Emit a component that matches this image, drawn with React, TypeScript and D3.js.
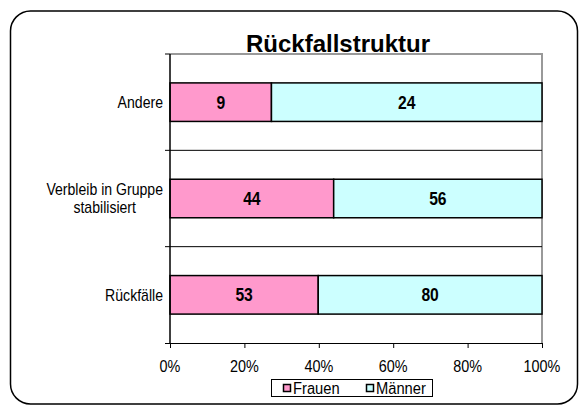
import { useEffect, useRef } from 'react';
import * as d3 from 'd3';

const categories = ['Andere', 'Verbleib in Gruppe\nstabilisiert', 'Rückfälle'];
const frauen = [9, 44, 53];
const maenner = [24, 56, 80];
const seriesNames = ['Frauen', 'Männer'];
const seriesColors = ['#FF99CC', '#CCFFFF'];
const xTicks = [0, 0.2, 0.4, 0.6, 0.8, 1];

const App = () => {
  const svgRef = useRef<SVGSVGElement>(null);

  useEffect(() => {
    if (!svgRef.current) return;
    const svg = d3.select(svgRef.current);
    svg.selectAll('*').remove();

    const plot = { left: 170, right: 542, top: 54, bottom: 343 };
    const font = '"Liberation Sans", Arial, sans-serif';

    // condensed text: the original looks vertically stretched
    const label = (
      parent: d3.Selection<any, unknown, null, undefined>,
      tx: number,
      ty: number,
      txt: string,
      size: number,
      sx: number,
      anchor = 'middle',
      bold = false,
    ) =>
      parent
        .append('text')
        .attr('transform', `translate(${tx},${ty}) scale(${sx},1)`)
        .attr('text-anchor', anchor)
        .attr('dy', '0.36em')
        .attr('font-family', font)
        .attr('font-size', `${size}px`)
        .attr('font-weight', bold ? 'bold' : 'normal')
        .attr('fill', '#000')
        .text(txt);

    // outer frame
    svg
      .append('rect')
      .attr('x', 10.5)
      .attr('y', 11)
      .attr('width', 567)
      .attr('height', 393)
      .attr('rx', 20)
      .attr('fill', '#fff')
      .attr('stroke', '#000')
      .attr('stroke-width', 1.5);

    // title
    svg
      .append('text')
      .attr('x', 338)
      .attr('y', 52)
      .attr('text-anchor', 'middle')
      .attr('font-family', font)
      .attr('font-size', '24px')
      .attr('font-weight', 'bold')
      .text('Rückfallstruktur');

    const x = d3.scaleLinear().domain([0, 1]).range([plot.left, plot.right]);
    const y = d3
      .scaleBand<string>()
      .domain(categories)
      .range([plot.top, plot.bottom])
      .padding(0);
    const barH = y.bandwidth() * 0.4;

    // plot border top/right (gray)
    svg
      .append('path')
      .attr('d', `M${plot.left},${plot.top}H${plot.right}V${plot.bottom}`)
      .attr('fill', 'none')
      .attr('stroke', '#999')
      .attr('stroke-width', 2);

    // category separators
    categories.slice(1).forEach((c) => {
      svg
        .append('line')
        .attr('x1', plot.left - 5)
        .attr('x2', plot.right)
        .attr('y1', y(c)!)
        .attr('y2', y(c)!)
        .attr('stroke', '#000')
        .attr('stroke-width', 1);
    });
    svg
      .append('line')
      .attr('x1', plot.left - 5)
      .attr('x2', plot.left)
      .attr('y1', plot.top)
      .attr('y2', plot.top)
      .attr('stroke', '#000');

    // bars
    categories.forEach((c, i) => {
      const total = frauen[i] + maenner[i];
      const shares = [frauen[i] / total, maenner[i] / total];
      const vals = [frauen[i], maenner[i]];
      const by = y(c)! + (y.bandwidth() - barH) / 2;
      let acc = 0;
      shares.forEach((s, j) => {
        const x0 = x(acc);
        const x1 = x(acc + s);
        svg
          .append('rect')
          .attr('x', x0)
          .attr('y', by)
          .attr('width', x1 - x0)
          .attr('height', barH)
          .attr('fill', seriesColors[j])
          .attr('stroke', '#000')
          .attr('stroke-width', 1.5);
        label(svg, (x0 + x1) / 2, by + barH / 2, String(vals[j]), 18, 0.87, 'middle', true);
        acc += s;
      });

      // category label, lines centred under each other, right edge at 163
      const lines = c.split('\n');
      const sx = 0.88;
      const cy = y(c)! + y.bandwidth() / 2;
      const lh = 18;
      const g = svg
        .append('text')
        .attr('font-family', font)
        .attr('font-size', '16px')
        .attr('text-anchor', 'middle');
      lines.forEach((l, k) => {
        g.append('tspan')
          .attr('x', 0)
          .attr('y', (k - (lines.length - 1) / 2) * lh)
          .attr('dy', '0.36em')
          .text(l);
      });
      const widths = g
        .selectAll<SVGTSpanElement, unknown>('tspan')
        .nodes()
        .map((t) => t.getComputedTextLength() * sx);
      const cx = 163 - Math.max(...widths) / 2;
      g.attr('transform', `translate(${cx},${cy}) scale(${sx},1)`);
    });

    // left axis
    svg
      .append('line')
      .attr('x1', plot.left)
      .attr('x2', plot.left)
      .attr('y1', plot.top)
      .attr('y2', plot.bottom)
      .attr('stroke', '#000')
      .attr('stroke-width', 1.5);

    // bottom axis
    const xAxis = d3.axisBottom(x).tickValues(xTicks).tickSize(5).tickSizeOuter(0).tickFormat(() => '');
    const ax = svg.append('g').attr('transform', `translate(0,${plot.bottom})`).call(xAxis);
    ax.select('.domain').attr('stroke', '#000').attr('d', `M${plot.left - 5},0.5H${plot.right}`);
    ax.selectAll('line').attr('stroke', '#000');
    const fmt = d3.format('.0%');
    xTicks.forEach((t) => label(svg, x(t), 366, fmt(t), 16, 0.9));

    // legend
    const lg = svg.append('g');
    lg.append('rect')
      .attr('x', 271.5)
      .attr('y', 379.5)
      .attr('width', 161)
      .attr('height', 17)
      .attr('fill', '#fff')
      .attr('stroke', '#000');
    const legendX = [283, 366];
    seriesNames.forEach((n, i) => {
      lg.append('rect')
        .attr('x', legendX[i] + 0.5)
        .attr('y', 384.5)
        .attr('width', 7)
        .attr('height', 7)
        .attr('fill', seriesColors[i])
        .attr('stroke', '#000')
        .attr('stroke-width', 1.5);
      label(lg, legendX[i] + 10, 388.5, n, 16, 0.92, 'start');
    });
  }, []);

  return (
    <svg
      ref={svgRef}
      width={579}
      height={406}
      style={{ position: 'absolute', left: 0, top: 0, background: '#fff' }}
    />
  );
};

export default App;
